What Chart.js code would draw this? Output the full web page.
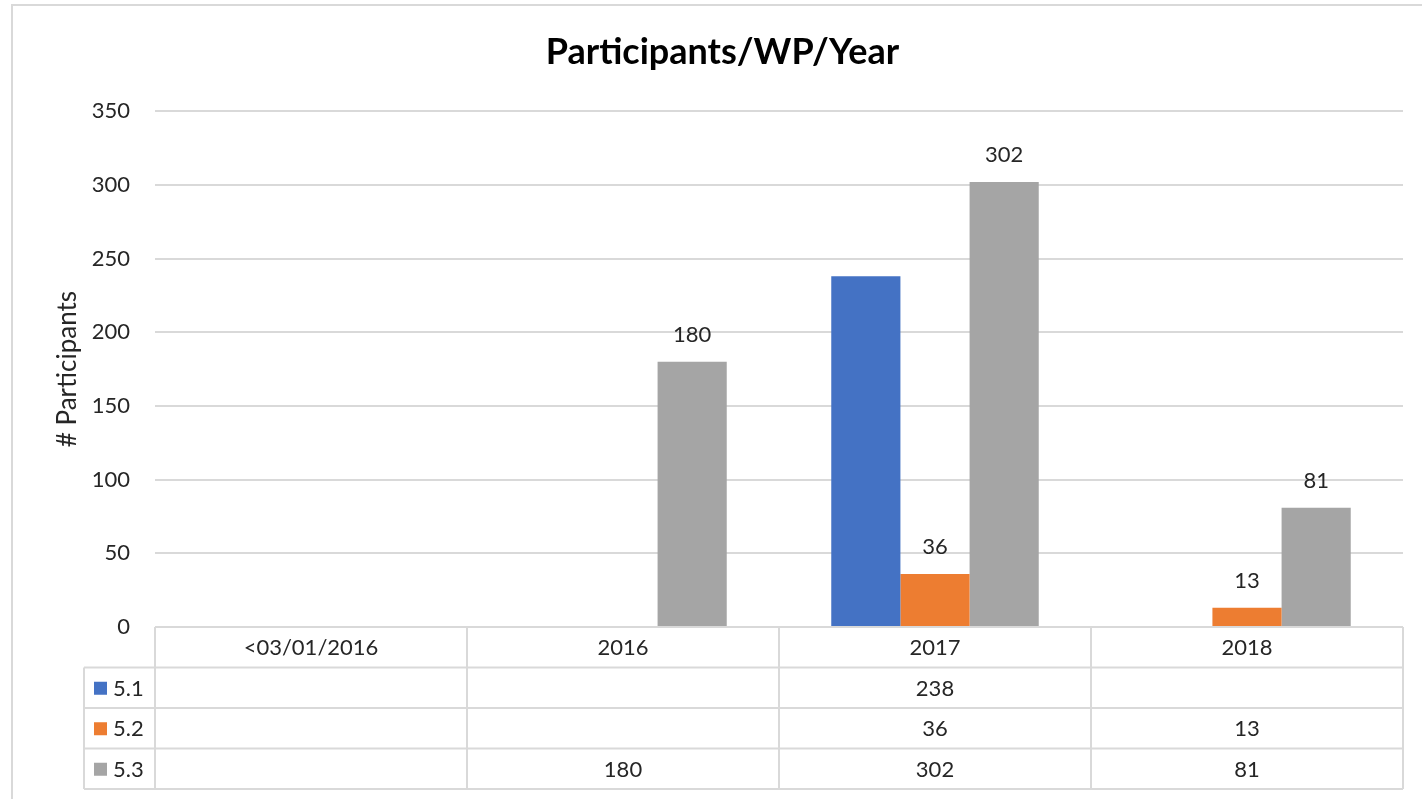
<!DOCTYPE html>
<html>
<head>
<meta charset="utf-8">
<script src="https://cdn.jsdelivr.net/npm/chart.js@4"></script>
<style>
  html, body { margin: 0; padding: 0; background: #fff; }
  #wrap { width: 1422px; height: 799px; position: relative; }
</style>
</head>
<body>
<div id="wrap"><canvas id="myChart"></canvas></div>
<script>
// chart data
var categories = ["<03/01/2016", "2016", "2017", "2018"];
var seriesNames = ["5.1", "5.2", "5.3"];
var wp51 = [null, null, 238, null];
var wp52 = [null, null, 36, 13];
var wp53 = [null, 180, 302, 81];
var yTicks = [0, 50, 100, 150, 200, 250, 300, 350];
var colors = ["#4472C4", "#ED7D31", "#A5A5A5"];
var labelledSeries = [1, 2]; // only 5.2 and 5.3 have data labels

var FONT = "Lato, 'Open Sans', sans-serif";
var lineCol = "#d9d9d9";

// outer frame of the chart
var framePlugin = {
  id: "frame",
  beforeDraw: function (chart) {
    var ctx = chart.ctx;
    ctx.save();
    ctx.fillStyle = "#fff";
    ctx.fillRect(0, 0, chart.width, chart.height);
    ctx.strokeStyle = lineCol;
    ctx.lineWidth = 2;
    ctx.strokeRect(12, 5, chart.width + 20, chart.height + 20);
    ctx.restore();
  }
};

// value labels above bars
var valueLabels = {
  id: "valueLabels",
  afterDatasetsDraw: function (chart) {
    var ctx = chart.ctx;
    ctx.save();
    ctx.font = "22px " + FONT;
    ctx.fillStyle = "#262626";
    ctx.textAlign = "center";
    ctx.textBaseline = "middle";
    labelledSeries.forEach(function (di) {
      var meta = chart.getDatasetMeta(di);
      meta.data.forEach(function (bar, i) {
        var v = chart.data.datasets[di].data[i];
        if (v === null) return;
        ctx.fillText(String(v), bar.x, bar.y - 27);
      });
    });
    ctx.restore();
  }
};

// data table under the plot
var dataTable = {
  id: "dataTable",
  afterDraw: function (chart) {
    var ctx = chart.ctx;
    var area = chart.chartArea;
    var n = categories.length;
    var colW = (area.right - area.left) / n;
    var top = area.bottom;
    var rowH = 40.5;
    var labelLeft = 84;
    var bottom = top + rowH * (seriesNames.length + 1);
    ctx.save();
    ctx.strokeStyle = lineCol;
    ctx.lineWidth = 2;
    ctx.beginPath();
    // header top
    ctx.moveTo(area.left, top);
    ctx.lineTo(area.right, top);
    for (var r = 1; r <= seriesNames.length + 1; r++) {
      ctx.moveTo(labelLeft, top + r * rowH);
      ctx.lineTo(area.right, top + r * rowH);
    }
    for (var c = 0; c <= n; c++) {
      ctx.moveTo(area.left + c * colW, top);
      ctx.lineTo(area.left + c * colW, bottom);
    }
    ctx.moveTo(labelLeft, top + rowH);
    ctx.lineTo(labelLeft, bottom);
    ctx.stroke();

    ctx.font = "22px " + FONT;
    ctx.fillStyle = "#262626";
    ctx.textBaseline = "middle";
    ctx.textAlign = "center";
    categories.forEach(function (cat, i) {
      ctx.fillText(cat, area.left + (i + 0.5) * colW, top + rowH / 2 + 1);
    });
    chart.data.datasets.forEach(function (ds, s) {
      var cy = top + (s + 1.5) * rowH + 1;
      ctx.fillStyle = colors[s];
      ctx.fillRect(94, cy - 7, 13, 13);
      ctx.fillStyle = "#262626";
      ctx.textAlign = "left";
      ctx.fillText(ds.label, 113, cy);
      ctx.textAlign = "center";
      ds.data.forEach(function (v, i) {
        if (v === null) return;
        ctx.fillText(String(v), area.left + (i + 0.5) * colW, cy);
      });
    });
    ctx.restore();
  }
};

new Chart("myChart", {
  type: "bar",
  data: {
    labels: categories,
    datasets: [
      { label: seriesNames[0], data: wp51, backgroundColor: colors[0] },
      { label: seriesNames[1], data: wp52, backgroundColor: colors[1] },
      { label: seriesNames[2], data: wp53, backgroundColor: colors[2] }
    ]
  },
  options: {
    responsive: true,
    maintainAspectRatio: false,
    animation: false,
    layout: { padding: { left: 42, right: 19, top: 0, bottom: 0 } },
    datasets: { bar: { categoryPercentage: 0.665, barPercentage: 1.0 } },
    plugins: {
      legend: { display: false },
      tooltip: { enabled: false },
      title: {
        display: true,
        text: "Participants/WP/Year",
        color: "#000",
        font: { family: FONT, size: 36, weight: "bold" },
        padding: { top: 31, bottom: 37 }
      }
    },
    scales: {
      x: {
        ticks: { display: false },
        grid: { display: false },
        border: { display: false },
        afterFit: function (s) { s.height = 172; }
      },
      y: {
        min: 0,
        max: 350,
        afterBuildTicks: function (s) {
          s.ticks = yTicks.map(function (v) { return { value: v }; });
        },
        ticks: {
          color: "#262626",
          padding: 25,
          font: { family: FONT, size: 22 }
        },
        grid: { color: lineCol, lineWidth: 2, drawTicks: false },
        border: { display: false },
        title: {
          display: true,
          text: "# Participants",
          color: "#262626",
          font: { family: FONT, size: 26 },
          padding: { top: 10, bottom: 0 }
        },
        afterFit: function (s) { s.width = 113; }
      }
    }
  },
  plugins: [framePlugin, valueLabels, dataTable]
});
</script>
</body>
</html>
